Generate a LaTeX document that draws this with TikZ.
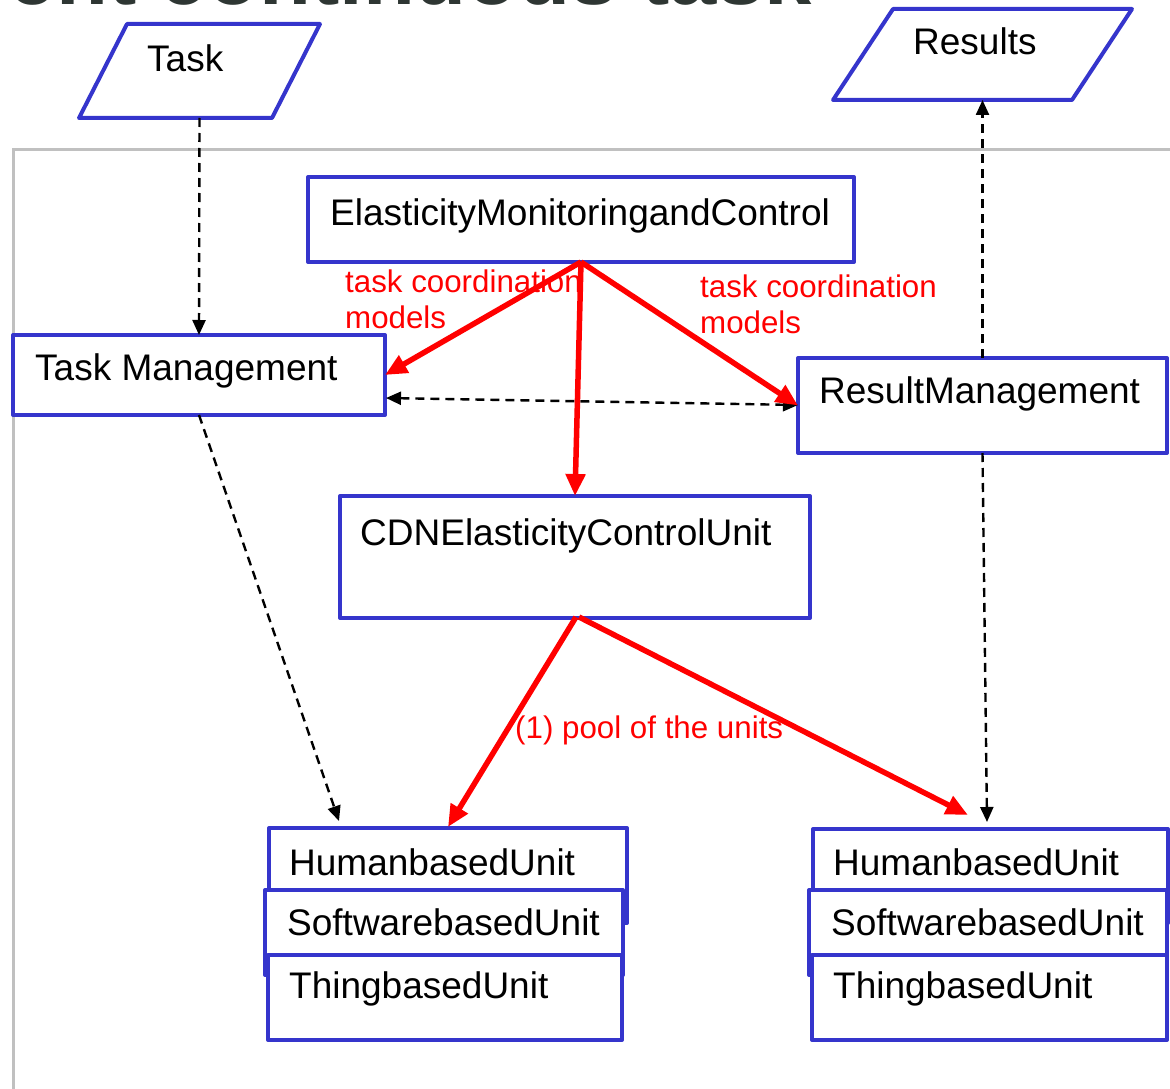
\documentclass[tikz,border=0pt]{standalone}
\usepackage{fontspec}
\setmainfont{Liberation Sans}
\usetikzlibrary{arrows.meta}
\definecolor{boxblue}{HTML}{3535CC}
\definecolor{framegray}{HTML}{C0C0C0}
\definecolor{titlegray}{HTML}{2E3633}
\tikzset{
  blk/.style={draw=boxblue, line width=4pt, fill=white, rectangle,
    inner sep=0pt, outer sep=0pt, line join=round},
  para/.style={draw=boxblue, line width=4pt, line join=round},
  anchorbox/.style={rectangle, inner sep=0pt, outer sep=0pt},
  lbl/.style={anchor=base west, inner sep=0pt, font=\fontsize{37}{40}\selectfont},
  redlbl/.style={anchor=base west, inner sep=0pt, text=red, align=left,
    font=\fontsize{31.3}{36}\selectfont},
  redarr/.style={draw=red, line width=5.5pt, -{Triangle[length=22pt,width=19pt]}},
  dasharr/.style={draw=black, line width=2.4pt, dash pattern=on 9pt off 6pt,
    -{Triangle[length=15pt,width=13pt]}},
  dashboth/.style={dasharr, {Triangle[length=15pt,width=13pt]}-{Triangle[length=15pt,width=13pt]}},
}
\begin{document}
\begin{tikzpicture}[x=1pt, y=-1pt]
\useasboundingbox (0,0) rectangle (1170,1089);
\clip (0,0) rectangle (1170,1089);

% heading, cut by the top edge
\node[anchor=base east, inner sep=0pt, text=titlegray,
  font=\fontsize{85}{90}\selectfont\bfseries] (head) at (812,5) {ent continuous task};

% system frame
\draw[draw=framegray, line width=3pt] (1180,150) -- (13,150) -- (13,1100);

% input and output
\draw[para] (127,24) -- (320,24) -- (272,118) -- (79,118) -- cycle;
\node[anchorbox, minimum width=100pt, minimum height=94pt] (task) at (199.5,71) {};
\node[lbl] (tasktxt) at (147,72) {Task};

\draw[para] (893,9) -- (1132,9) -- (1072,100) -- (833,100) -- cycle;
\node[anchorbox, minimum width=100pt, minimum height=91pt] (res) at (982.5,54.5) {};
\node[lbl] (restxt) at (913,55) {Results};

% management and control boxes
\node[blk, minimum width=546pt, minimum height=85pt] (emc) at (581,219.5) {};
\node[lbl] (emctxt) at (330,225) {ElasticityMonitoringandControl};

\node[blk, minimum width=372pt, minimum height=80pt] (tm) at (199,375) {};
\node[lbl] (tmtxt) at (35,380) {Task Management};

\node[blk, minimum width=369pt, minimum height=95pt] (rm) at (982.5,405.5) {};
\node[lbl] (rmtxt) at (819,403) {ResultManagement};

\node[blk, minimum width=470pt, minimum height=122pt] (cdn) at (575,557) {};
\node[lbl] (cdntxt) at (360,545) {CDNElasticityControlUnit};

% left pool of units
\node[blk, minimum width=358pt, minimum height=95pt] (hu1) at (448,875.5) {};
\node[lbl] (hu1txt) at (289,875) {HumanbasedUnit};
\node[blk, minimum width=358pt, minimum height=85pt] (sw1) at (444,932.5) {};
\node[lbl] (sw1txt) at (287,935) {SoftwarebasedUnit};
\node[blk, minimum width=354pt, minimum height=85pt] (th1) at (445,997.5) {};
\node[lbl] (th1txt) at (289,998) {ThingbasedUnit};

% right pool of units
\node[blk, minimum width=355pt, minimum height=94pt] (hu2) at (990.5,876) {};
\node[lbl] (hu2txt) at (833,875) {HumanbasedUnit};
\node[blk, minimum width=358pt, minimum height=85pt] (sw2) at (988,932.5) {};
\node[lbl] (sw2txt) at (831,935) {SoftwarebasedUnit};
\node[blk, minimum width=355pt, minimum height=85pt] (th2) at (989.5,997.5) {};
\node[lbl] (th2txt) at (833,998) {ThingbasedUnit};

% connector end points
\coordinate (tmR) at (386,398);
\coordinate (rmL) at (798,405);
\coordinate (tmB) at (199,415);
\coordinate (hu1T) at (339,821);
\coordinate (hu1R) at (448,827);
\coordinate (hu2L) at (968,815);
\coordinate (hu2T) at (987,822);
\coordinate (cdnB1) at (576,617);
\coordinate (cdnB2) at (579,617);

% red labels (anchored at the last line)
\node[redlbl] (lab1) at (345,328) {task coordination\\models};
\node[redlbl] (lab2) at (700,333) {task coordination\\models};
\node[redlbl] (lab3) at (515,738) {(1) pool of the units};

% dashed data flow
\draw[dasharr] (task.south) -- (tm.north);
\draw[dasharr] (rm.north) -- (res.south);
\draw[dashboth] (tmR) -- (rmL);
\draw[dasharr] (tmB) -- (hu1T);
\draw[dasharr] (rm.south) -- (hu2T);

% control flow
\draw[redarr] (emc.south) -- (tm.east);
\draw[redarr] (emc.south) -- (cdn.north);
\draw[redarr] (emc.south) -- (rm.west);
\draw[redarr] (cdnB1) -- (hu1R);
\draw[redarr] (cdnB2) -- (hu2L);
\end{tikzpicture}
\end{document}
